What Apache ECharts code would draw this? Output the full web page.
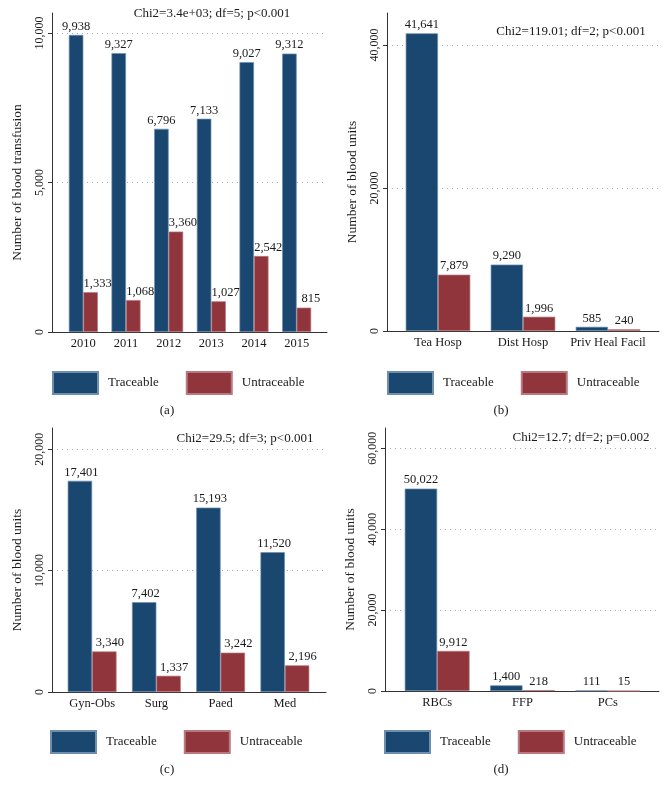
<!DOCTYPE html>
<html>
<head>
<meta charset="utf-8">
<script src="https://cdn.jsdelivr.net/npm/echarts@6/dist/echarts.min.js"></script>
<style>
html,body{margin:0;padding:0;background:#fff;}
#chart{width:669px;height:796px;}
</style>
</head>
<body>
<div id="chart"></div>
<script>
// ---- data ----
const categoriesA = ['2010', '2011', '2012', '2013', '2014', '2015'];
const traceableA = [9938, 9327, 6796, 7133, 9027, 9312];
const untraceableA = [1333, 1068, 3360, 1027, 2542, 815];
const yTicksA = [0, 5000, 10000];

const categoriesB = ['Tea Hosp', 'Dist Hosp', 'Priv Heal Facil'];
const traceableB = [41641, 9290, 585];
const untraceableB = [7879, 1996, 240];
const yTicksB = [0, 20000, 40000];

const categoriesC = ['Gyn-Obs', 'Surg', 'Paed', 'Med'];
const traceableC = [17401, 7402, 15193, 11520];
const untraceableC = [3340, 1337, 3242, 2196];
const yTicksC = [0, 10000, 20000];

const categoriesD = ['RBCs', 'FFP', 'PCs'];
const traceableD = [50022, 1400, 111];
const untraceableD = [9912, 218, 15];
const yTicksD = [0, 20000, 40000, 60000];

const seriesNames = ['Traceable', 'Untraceable'];
const yTitles = ['Number of blood transfusion', 'Number of blood units', 'Number of blood units', 'Number of blood units'];
const chiTexts = ['Chi2=3.4e+03; df=5; p<0.001', 'Chi2=119.01; df=2; p<0.001', 'Chi2=29.5; df=3; p<0.001', 'Chi2=12.7; df=2; p=0.002'];
const captions = ['(a)', '(b)', '(c)', '(d)'];

// ---- layout / style ----
const FONT = "'Liberation Serif', 'DejaVu Serif', 'Times New Roman', serif";
const BLUE = '#1a476f';
const RED = '#90353b';
const TXT = '#1a1a1a';
const AXIS = '#333333';

const panels = [
  { cats: categoriesA, t: traceableA, u: untraceableA, ticks: yTicksA, max: 10670,
    frame: { left: 52, top: 13, width: 275, height: 319 }, dataLeft: 62, dataWidth: 256, gap: '32%',
    offT: [0, 0], offU: [7, 0], legend: { left: 52, top: 371 }, chi: [212, 14], cap: [167, 411] },
  { cats: categoriesB, t: traceableB, u: untraceableB, ticks: yTicksB, max: 44480,
    frame: { left: 387, top: 13, width: 272, height: 318 }, dataLeft: 395.5, dataWidth: 255, gap: '24%',
    offT: [0, 0], offU: [0, 0], legend: { left: 387, top: 371 }, chi: [571, 32], cap: [501, 411] },
  { cats: categoriesC, t: traceableC, u: untraceableC, ticks: yTicksC, max: 21750,
    frame: { left: 52, top: 428, width: 274, height: 264 }, dataLeft: 60, dataWidth: 257, gap: '24%',
    offT: [1.5, 0], offU: [5.5, 0], legend: { left: 50, top: 730 }, chi: [245, 439], cap: [167, 770] },
  { cats: categoriesD, t: traceableD, u: untraceableD, ticks: yTicksD, max: 65000,
    frame: { left: 385, top: 428, width: 274, height: 263 }, dataLeft: 394.5, dataWidth: 256, gap: '24%',
    offT: [0, 0], offU: [0, 0], legend: { left: 384, top: 730 }, chi: [581, 438], cap: [501, 770] }
];

const fmt = v => Number(v).toLocaleString('en-US');

const grid = [], xAxis = [], yAxis = [], series = [], legend = [], graphic = [];

panels.forEach((p, i) => {
  const interval = p.ticks[1] - p.ticks[0];
  // frame grid (axes, gridlines)
  grid.push({ left: p.frame.left, top: p.frame.top, width: p.frame.width, height: p.frame.height, containLabel: false });
  // data grid (bars)
  grid.push({ left: p.dataLeft, top: p.frame.top, width: p.dataWidth, height: p.frame.height, containLabel: false });

  xAxis.push({
    type: 'value', gridIndex: 2 * i, min: 0, max: 1,
    axisLine: { show: true, lineStyle: { color: AXIS, width: 1 } },
    axisTick: { show: false }, axisLabel: { show: false }, splitLine: { show: false }
  });
  xAxis.push({
    type: 'category', gridIndex: 2 * i + 1, data: p.cats,
    axisLine: { show: false }, axisTick: { show: false },
    axisLabel: { color: TXT, fontFamily: FONT, fontSize: 12.5, margin: 5, interval: 0 },
    splitLine: { show: false }
  });

  yAxis.push({
    type: 'value', gridIndex: 2 * i, min: 0, max: p.max, interval: interval,
    name: yTitles[i], nameLocation: 'middle', nameRotate: 90, nameGap: 28,
    nameTextStyle: { color: TXT, fontFamily: FONT, fontSize: 13.5, padding: [0, 20, 0, 0] },
    axisLine: { show: true, lineStyle: { color: AXIS, width: 1 } },
    axisTick: { show: true, inside: false, length: 4, lineStyle: { color: AXIS }, customValues: p.ticks },
    axisLabel: { rotate: 90, color: TXT, fontFamily: FONT, fontSize: 12, margin: 6,
      customValues: p.ticks, formatter: v => fmt(v) },
    splitLine: { show: true, showMinLine: false,
      lineStyle: { color: '#aaaaaa', width: 1, type: [1, 4] } }
  });
  yAxis.push({ type: 'value', gridIndex: 2 * i + 1, min: 0, max: p.max, show: false, splitLine: { show: false } });

  const mk = (name, data, color, border, off) => ({
    type: 'bar', name: name, data: data, xAxisIndex: 2 * i + 1, yAxisIndex: 2 * i + 1,
    barGap: '0%', barCategoryGap: p.gap,
    itemStyle: { color: color, borderColor: border, borderWidth: 0.7 },
    label: { show: true, position: 'top', distance: 2, offset: off, color: TXT,
      fontFamily: FONT, fontSize: 12.5, formatter: q => fmt(q.value) },
    emphasis: { disabled: true }
  });
  series.push(mk(seriesNames[0], p.t, BLUE, '#6f8fae', p.offT));
  series.push(mk(seriesNames[1], p.u, RED, '#b97a7f', p.offU));

  legend.push({
    data: seriesNames, left: p.legend.left, top: p.legend.top, orient: 'horizontal',
    icon: 'rect', itemWidth: 45, itemHeight: 22, itemGap: 27, padding: 0,
    selectedMode: false, textStyle: { color: TXT, fontFamily: FONT, fontSize: 13, padding: [0, 0, 0, 5] }
  });

  graphic.push({ type: 'text', x: p.chi[0], y: p.chi[1],
    style: { text: chiTexts[i], fill: TXT, font: '13px ' + FONT, textAlign: 'center', textVerticalAlign: 'middle' } });
  graphic.push({ type: 'text', x: p.cap[0], y: p.cap[1],
    style: { text: captions[i], fill: TXT, font: '13px ' + FONT, textAlign: 'center', textVerticalAlign: 'middle' } });
});

const chart = echarts.init(document.getElementById('chart'), null, { renderer: 'canvas' });
chart.setOption({
  animation: false,
  backgroundColor: '#ffffff',
  grid, xAxis, yAxis, series, legend, graphic
});
</script>
</body>
</html>
